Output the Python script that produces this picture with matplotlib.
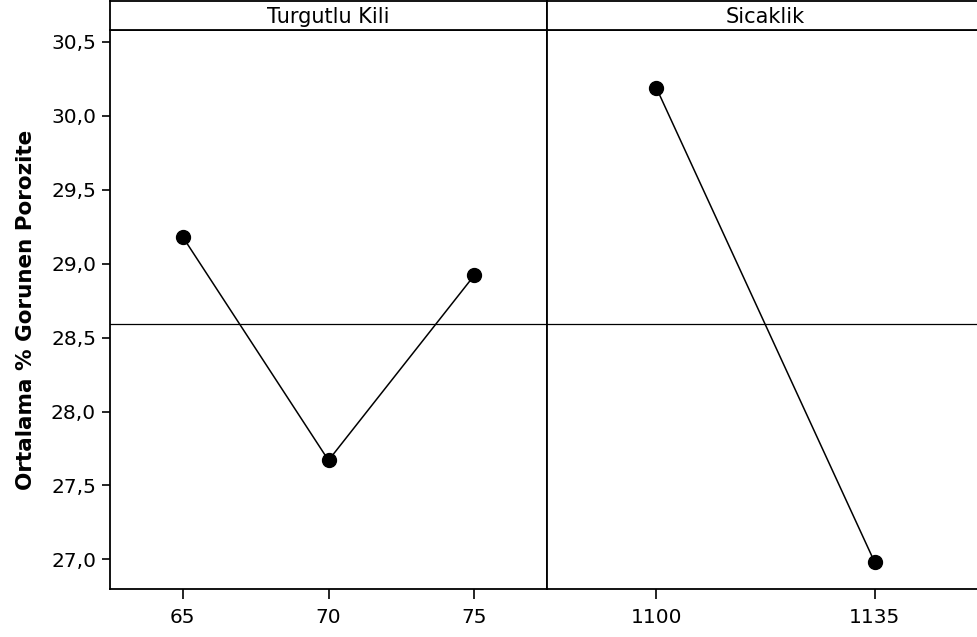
import matplotlib
matplotlib.use("Agg")
import matplotlib.pyplot as plt
import numpy as np

# main effects for mean apparent porosity
factors = ["Turgutlu Kili", "Sicaklik"]
kil_levels = ["65", "70", "75"]
kil_means = [29.18, 27.67, 28.92]
sic_levels = ["1100", "1135"]
sic_means = [30.19, 26.98]
grand_mean = 28.59

y_ticks = [27.0, 27.5, 28.0, 28.5, 29.0, 29.5, 30.0, 30.5]
y_lim = (26.80, 30.58)

plt.rcParams['font.family'] = ['DejaVu Sans']

W, H = 977, 637
fig = plt.figure(figsize=(W / 100, H / 100), dpi=100)

panel_w = 437
left0 = 110
top_px = 30
bottom_px = 589
strip_top = 1

panels = [(kil_levels, kil_means), (sic_levels, sic_means)]
axes = []
for i, (levels, means) in enumerate(panels):
    x0 = left0 + i * panel_w
    ax = fig.add_axes([x0 / W, (H - bottom_px) / H, panel_w / W, (bottom_px - top_px) / H])
    pos = np.arange(len(levels))
    ax.axhline(grand_mean, color="black", lw=0.9, zorder=1)
    ax.plot(pos, means, color="black", lw=1.1, marker="o", ms=10, zorder=3)
    ax.set_xlim(-0.5, len(levels) - 0.5)
    ax.set_ylim(*y_lim)
    ax.set_xticks(pos)
    ax.set_xticklabels(levels, fontsize=14.5)
    ax.tick_params(axis="x", direction="out", length=7, width=1.2, pad=7)
    for s in ax.spines.values():
        s.set_linewidth(1.3)
    if i == 0:
        ax.set_yticks(y_ticks)
        ax.set_yticklabels([f"{v:.1f}".replace(".", ",") for v in y_ticks], fontsize=14.5)
        ax.tick_params(axis="y", direction="out", length=6, width=1.2, pad=4)
        ax.set_ylabel("Ortalama % Gorunen Porozite", fontsize=15.5, fontweight="bold", labelpad=11)
    else:
        ax.set_yticks([])
        ax.spines["right"].set_visible(False)
    axes.append(ax)

    # factor name strip above the panel
    sax = fig.add_axes([x0 / W, (H - top_px) / H, panel_w / W, (top_px - strip_top) / H])
    sax.set_xticks([])
    sax.set_yticks([])
    for s in sax.spines.values():
        s.set_linewidth(1.3)
    sax.text(0.5, 0.45, factors[i], ha="center", va="center", fontsize=15, transform=sax.transAxes)

fig.savefig("out.png", dpi=100)
